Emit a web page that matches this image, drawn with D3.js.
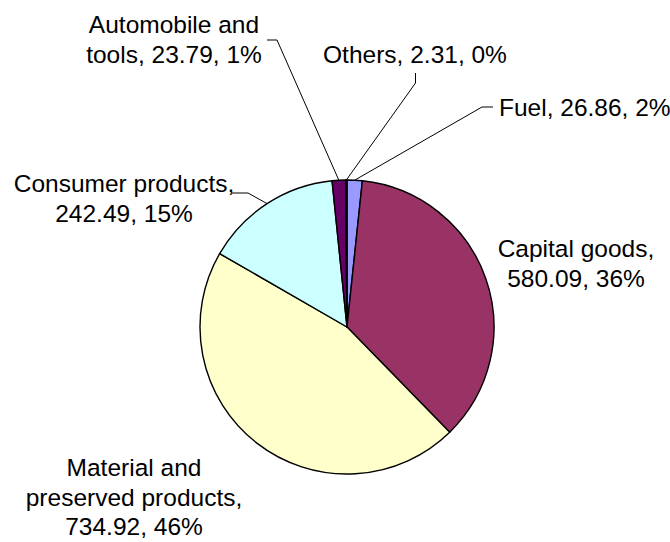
<!DOCTYPE html>
<html>
<head>
<meta charset="utf-8">
<script src="https://cdn.jsdelivr.net/npm/d3@7"></script>
<style>
  html, body { margin: 0; padding: 0; background: #ffffff; }
  svg { display: block; }
  text { font-family: "Liberation Sans", Arial, sans-serif; font-size: 24.5px; fill: #000; }
</style>
</head>
<body>
<svg id="chart" width="670" height="542"></svg>
<script>
// Categories in drawing order (clockwise from 12 o'clock)
const categories = [
  "Fuel",
  "Capital goods",
  "Material and preserved products",
  "Consumer products",
  "Automobile and tools",
  "Others"
];
const values = [26.86, 580.09, 734.92, 242.49, 23.79, 2.31];
const colors = ["#9999FF", "#993366", "#FFFFCC", "#CCFFFF", "#660066", "#FF8080"];

// Label placement: words per line, anchor, first baseline, optional leader elbow
const labelLayout = [
  { lines: [3],       x: 499, y: 116, anchor: "start",  leader: [[482, 107], [493, 107]] },
  { lines: [2, 2],    x: 576, y: 257, anchor: "middle", leader: null },
  { lines: [2, 2, 2], x: 134, y: 476, anchor: "middle", leader: null },
  { lines: [2, 2],    x: 124, y: 192, anchor: "middle", leader: [[248, 193], [232, 193]] },
  { lines: [2, 3],    x: 174, y: 33,  anchor: "middle", leader: [[277, 40], [267, 40]] },
  { lines: [3],       x: 415, y: 63,  anchor: "middle", leader: [[415.5, 83], [415.5, 73]] }
];
const lineHeight = 29.5;

const svg = d3.select("#chart");
const cx = 347, cy = 327, radius = 147;

const total = d3.sum(values);
const fmt = d3.format(".2f");

const pie = d3.pie().sort(null).value(d => d.value);
const arcs = pie(categories.map((c, i) => ({ name: c, value: values[i], i })));

const arc = d3.arc().innerRadius(0).outerRadius(radius);

const g = svg.append("g").attr("transform", `translate(${cx},${cy})`);

g.selectAll("path.slice")
  .data(arcs)
  .join("path")
  .attr("class", "slice")
  .attr("d", arc)
  .attr("fill", d => colors[d.data.i])
  .attr("stroke", "#000")
  .attr("stroke-width", 1.4)
  .attr("stroke-linejoin", "round");

// Leader lines from label elbow to the slice's outer edge midpoint
arcs.forEach(d => {
  const L = labelLayout[d.data.i];
  if (!L.leader) return;
  const mid = (d.startAngle + d.endAngle) / 2;
  const px = cx + radius * Math.sin(mid);
  const py = cy - radius * Math.cos(mid);
  const pts = [[px, py], ...L.leader];
  svg.append("path")
    .attr("d", d3.line()(pts))
    .attr("fill", "none")
    .attr("stroke", "#000")
    .attr("stroke-width", 1);
});

// Data labels: "name, value, percent"
arcs.forEach(d => {
  const i = d.data.i;
  const L = labelLayout[i];
  const pct = Math.round(values[i] / total * 100);
  const words = `${categories[i]}, ${fmt(values[i])}, ${pct}%`.split(" ");
  const t = svg.append("text")
    .attr("x", L.x)
    .attr("y", L.y)
    .attr("text-anchor", L.anchor);
  let k = 0;
  L.lines.forEach((n, li) => {
    t.append("tspan")
      .attr("x", L.x)
      .attr("y", L.y + li * lineHeight)
      .text(words.slice(k, k + n).join(" "));
    k += n;
  });
});
</script>
</body>
</html>
